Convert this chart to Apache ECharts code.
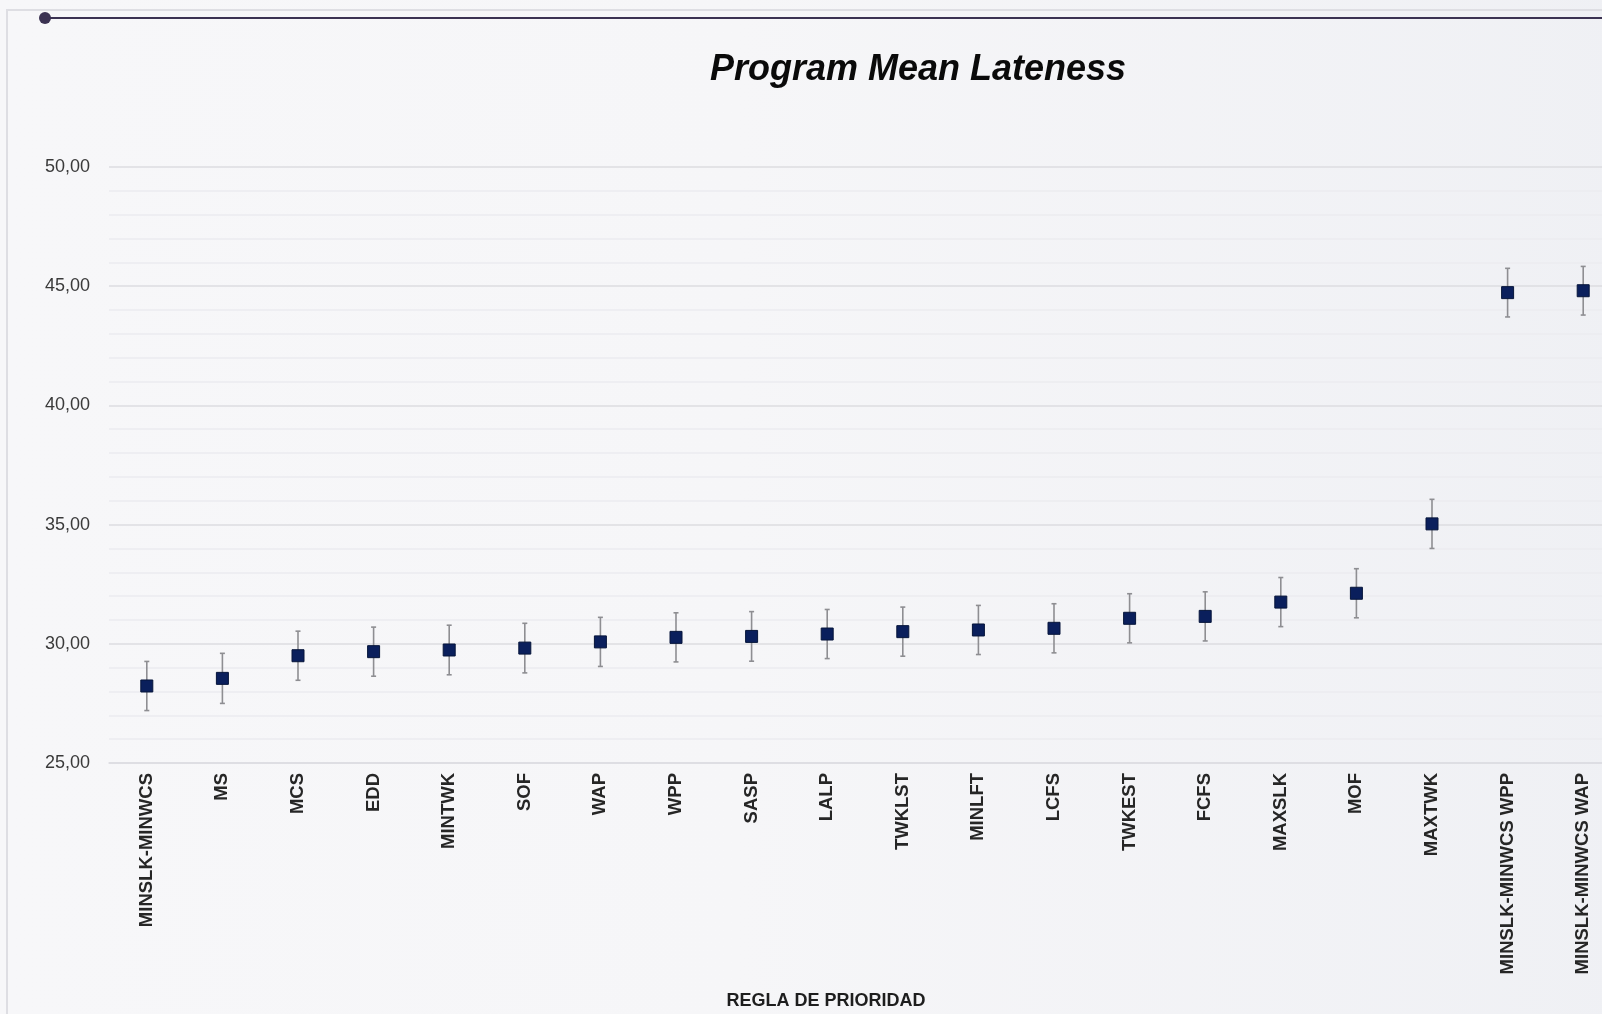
<!DOCTYPE html>
<html>
<head>
<meta charset="utf-8">
<script src="https://cdn.jsdelivr.net/npm/echarts@6/dist/echarts.min.js"></script>
<style>
  html, body { margin: 0; padding: 0; width: 1602px; height: 1014px; overflow: hidden; background: #f3f3f6; }
  #chart {
    position: absolute; left: 0; top: 0; width: 1640px; height: 1014px;
    background: linear-gradient(90deg, #f7f7f9 0%, #f6f6f8 45%, #eff0f4 100%);
  }
</style>
</head>
<body>
<div id="chart"></div>
<script>
// Priority rules, ordered by mean lateness
const rules = [
  'MINSLK-MINWCS', 'MS', 'MCS', 'EDD', 'MINTWK', 'SOF', 'WAP', 'WPP', 'SASP', 'LALP',
  'TWKLST', 'MINLFT', 'LCFS', 'TWKEST', 'FCFS', 'MAXSLK', 'MOF', 'MAXTWK',
  'MINSLK-MINWCS WPP', 'MINSLK-MINWCS WAP'
];

// Mean lateness per rule
const meanLateness = [
  28.23, 28.55, 29.50, 29.67, 29.74, 29.82, 30.08, 30.27, 30.31, 30.41,
  30.51, 30.58, 30.65, 31.07, 31.15, 31.75, 32.12, 35.03, 44.73, 44.81
];

// Interval bounds around each mean
const lowerBound = [
  27.20, 27.50, 28.47, 28.64, 28.70, 28.78, 29.05, 29.24, 29.27, 29.38,
  29.48, 29.55, 29.62, 30.04, 30.12, 30.72, 31.09, 34.00, 43.71, 43.79
];
const upperBound = [
  29.26, 29.60, 30.53, 30.70, 30.78, 30.86, 31.11, 31.30, 31.35, 31.44,
  31.54, 31.61, 31.68, 32.10, 32.18, 32.78, 33.15, 36.06, 45.75, 45.83
];

// Value axis range and step
const yMin = 25;
const yMax = 50;
const yStep = 5;

const chartTitle = 'Program Mean Lateness';
const xAxisTitle = 'REGLA DE PRIORIDAD';

const chart = echarts.init(document.getElementById('chart'), null, { renderer: 'canvas' });

const intervals = rules.map((r, i) => [i, lowerBound[i], upperBound[i]]);

const option = {
  backgroundColor: 'transparent',
  animation: false,
  textStyle: { fontFamily: 'Liberation Sans, Arial, sans-serif' },
  grid: { left: 109, right: 19, top: 167, bottom: 251, containLabel: false },
  xAxis: {
    type: 'category',
    data: rules,
    boundaryGap: true,
    axisLine: { show: true, lineStyle: { color: '#dcdce1', width: 1.5 } },
    axisTick: { show: false },
    splitLine: { show: false },
    axisLabel: {
      interval: 0,
      rotate: 90,
      margin: 10,
      fontSize: 18.5,
      fontWeight: 'bold',
      color: '#262626',
      fontFamily: 'Liberation Sans, Arial, sans-serif'
    }
  },
  yAxis: {
    type: 'value',
    min: yMin,
    max: yMax,
    interval: yStep,
    axisLine: { show: false },
    axisTick: { show: false },
    axisLabel: {
      margin: 19,
      fontSize: 18,
      color: '#3a3a3a',
      formatter: v => v.toFixed(2).replace('.', ',')
    },
    splitLine: { show: true, lineStyle: { color: '#dcdce1', width: 1.5 } },
    minorTick: { show: false, splitNumber: 5 },
    minorSplitLine: { show: true, lineStyle: { color: '#ececf0', width: 1.5 } }
  },
  series: [
    {
      type: 'custom',
      name: 'interval',
      data: intervals,
      encode: { x: 0, y: [1, 2] },
      z: 2,
      renderItem: function (params, api) {
        const x = api.value(0);
        const lo = api.coord([x, api.value(1)]);
        const hi = api.coord([x, api.value(2)]);
        const cap = 2.5;
        const style = { stroke: '#8e8e92', lineWidth: 1.6 };
        return {
          type: 'group',
          children: [
            { type: 'line', shape: { x1: hi[0], y1: hi[1], x2: lo[0], y2: lo[1] }, style: style },
            { type: 'line', shape: { x1: hi[0] - cap, y1: hi[1], x2: hi[0] + cap, y2: hi[1] }, style: style },
            { type: 'line', shape: { x1: lo[0] - cap, y1: lo[1], x2: lo[0] + cap, y2: lo[1] }, style: style }
          ]
        };
      }
    },
    {
      type: 'scatter',
      name: 'mean',
      data: meanLateness,
      symbol: 'rect',
      symbolSize: 12,
      z: 3,
      itemStyle: { color: '#0a1f5c', borderColor: '#06153a', borderWidth: 1, opacity: 1 }
    }
  ],
  graphic: [
    {
      type: 'rect',
      silent: true,
      z: -1,
      shape: { x: 7, y: 10, width: 1700, height: 1100 },
      style: { fill: 'none', stroke: '#dedee3', lineWidth: 2 }
    },
    {
      type: 'line',
      silent: true,
      shape: { x1: 45, y1: 18, x2: 1640, y2: 18 },
      style: { stroke: '#3b3252', lineWidth: 2 }
    },
    {
      type: 'circle',
      silent: true,
      shape: { cx: 45, cy: 18, r: 6 },
      style: { fill: '#3b3252' }
    },
    {
      type: 'text',
      silent: true,
      x: 918,
      y: 70,
      style: {
        text: chartTitle,
        fontSize: 36,
        fontWeight: 'bold',
        fontStyle: 'italic',
        fontFamily: 'Liberation Sans, Arial, sans-serif',
        fill: '#0a0a0a',
        align: 'center',
        verticalAlign: 'middle'
      }
    },
    {
      type: 'text',
      silent: true,
      x: 826,
      y: 1001,
      style: {
        text: xAxisTitle,
        fontSize: 18,
        fontWeight: 'bold',
        fontFamily: 'Liberation Sans, Arial, sans-serif',
        fill: '#1e1e1e',
        align: 'center',
        verticalAlign: 'middle'
      }
    }
  ]
};

chart.setOption(option);
</script>
</body>
</html>
